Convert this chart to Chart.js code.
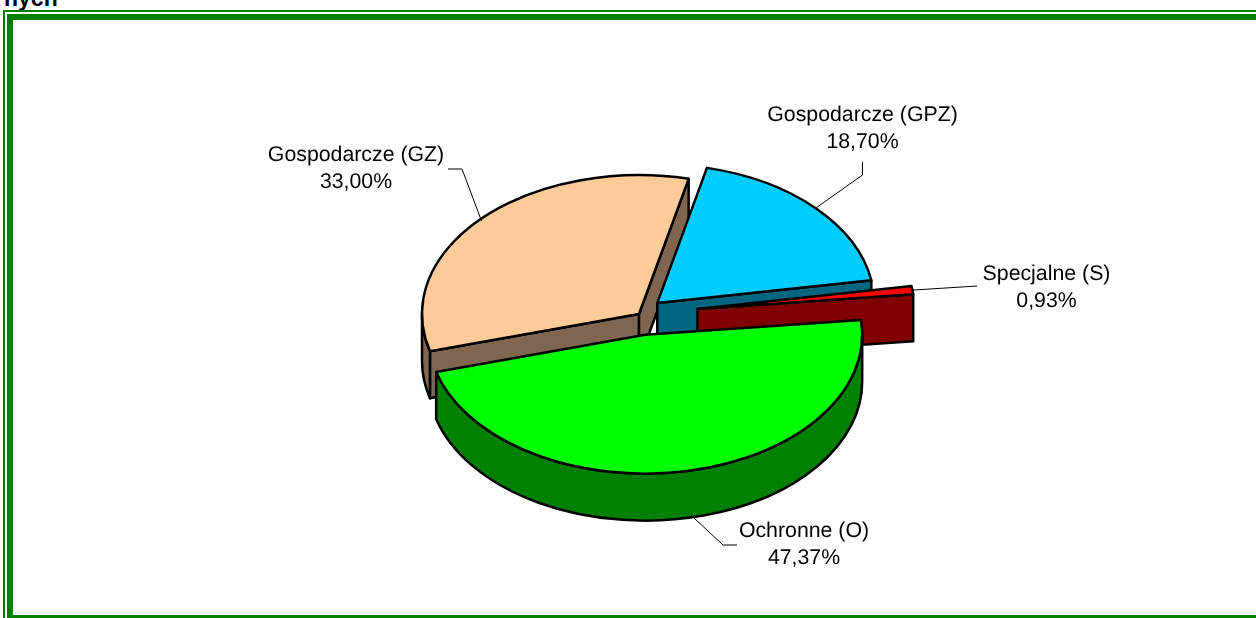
<!DOCTYPE html>
<html lang="pl">
<head>
<meta charset="utf-8">
<title>Pie chart</title>
<script src="https://cdn.jsdelivr.net/npm/chart.js@4"></script>
<style>
    html, body { margin: 0; padding: 0; background: #fff; overflow: hidden; }
    body { width: 1256px; height: 618px; position: relative; }
    .cut { position: absolute; left: 4px; top: -15px; font: bold 23px "Liberation Sans", sans-serif; color: #000; }
    .outer { position: absolute; left: 3px; top: 10px; width: 1260px; height: 620px; border: 2px solid #007f00; }
    .inner { position: absolute; left: 7px; top: 14px; width: 1260px; height: 595px; border: 6px solid #007f00; }
    #wrap { position: absolute; left: 0; top: 0; width: 1256px; height: 618px; }
</style>
</head>
<body>
<div class="cut">nych</div>
<div class="outer"></div>
<div class="inner"></div>
<div id="wrap"><canvas id="pie"></canvas></div>
<script>
    // Data
    const categories = ['Ochronne (O)', 'Gospodarcze (GZ)', 'Gospodarcze (GPZ)', 'Specjalne (S)'];
    const shares = [47.37, 33.00, 18.70, 0.93];
    const shareLabels = ['47,37%', '33,00%', '18,70%', '0,93%'];

    // Look of the slices
    const topColors = ['#00ff00', '#ffcc99', '#00ccff', '#ff0000'];
    const wallColors = ['#008000', '#806650', '#006680', '#800000'];
    const explode = [33, 0, 25, 59];
    const drawOrder = [1, 2, 3, 0];
    const tilt = 0.64;
    const depth = 47;

    // Leader elbows and label centres, relative to the pie centre
    const leaderNudge = [[5, -3], [-1, 3], [0, 0], [0, 0]];
    const elbows = [[84, 231, 98, 231], [-177, -145, -191, -145], [223.5, -139, 223.5, -152], [338, -28, 338, -28]];
    const labelPos = [[165, 217.5], [-283, -159], [223.5, -198.5], [407.5, -39.5]];

    function sliceGeom(el, i) {
        const mid = (el.startAngle + el.endAngle) / 2;
        return { x: el.x + explode[i] * Math.cos(mid), y: el.y + explode[i] * Math.sin(mid) * tilt, mid };
    }

    function rimPoint(el, g, angle) {
        return [g.x + el.outerRadius * Math.cos(angle), g.y + el.outerRadius * Math.sin(angle) * tilt];
    }

    function paint(ctx, color) {
        ctx.fillStyle = color;
        ctx.fill();
        ctx.stroke();
    }

    // cut face between the apex and the rim, pushed down by depth
    function cutFace(ctx, g, p, color) {
        ctx.beginPath();
        ctx.moveTo(g.x, g.y);
        ctx.lineTo(p[0], p[1]);
        ctx.lineTo(p[0], p[1] + depth);
        ctx.lineTo(g.x, g.y + depth);
        ctx.closePath();
        paint(ctx, color);
    }

    const pie3d = {
        id: 'pie3d',
        beforeDatasetDraw(chart, args) {
            const ctx = chart.ctx;
            const arcs = args.meta.data;
            ctx.save();
            ctx.lineJoin = 'round';
            ctx.strokeStyle = '#000';
            ctx.lineWidth = 2.5;
            drawOrder.forEach(i => {
                const el = arcs[i];
                const g = sliceGeom(el, i);
                const R = el.outerRadius;

                // only the faces turned to the viewer
                if (Math.cos(el.startAngle) < 0) cutFace(ctx, g, rimPoint(el, g, el.startAngle), wallColors[i]);
                if (Math.cos(el.endAngle) > 0) cutFace(ctx, g, rimPoint(el, g, el.endAngle), wallColors[i]);

                // outer wall, front half of the rim only
                const s = Math.max(el.startAngle, 0);
                const e = Math.min(el.endAngle, Math.PI);
                if (e > s) {
                    ctx.beginPath();
                    ctx.ellipse(g.x, g.y, R, R * tilt, 0, s, e);
                    ctx.ellipse(g.x, g.y + depth, R, R * tilt, 0, e, s, true);
                    ctx.closePath();
                    paint(ctx, wallColors[i]);
                }

                // top face
                ctx.beginPath();
                ctx.moveTo(g.x, g.y);
                ctx.ellipse(g.x, g.y, R, R * tilt, 0, el.startAngle, el.endAngle);
                ctx.closePath();
                paint(ctx, topColors[i]);
            });

            // leader lines and labels
            ctx.lineWidth = 1;
            ctx.fillStyle = '#000';
            ctx.font = '21.3px "Liberation Sans", Arial, sans-serif';
            ctx.textRendering = 'geometricPrecision';
            ctx.textAlign = 'center';
            ctx.textBaseline = 'middle';
            arcs.forEach((el, i) => {
                const g = sliceGeom(el, i);
                const start = rimPoint(el, g, g.mid);
                const e = elbows[i];
                ctx.beginPath();
                ctx.moveTo(start[0] + leaderNudge[i][0], start[1] + leaderNudge[i][1] + (i === 0 ? depth : 0));
                ctx.lineTo(el.x + e[0], el.y + e[1]);
                ctx.lineTo(el.x + e[2], el.y + e[3]);
                ctx.stroke();
                const lx = el.x + labelPos[i][0];
                const ly = el.y + labelPos[i][1];
                ctx.fillText(categories[i], lx, ly);
                ctx.fillText(shareLabels[i], lx, ly + 27);
            });
            ctx.restore();
            return false;
        }
    };

    new Chart(document.getElementById('pie'), {
        type: 'pie',
        data: {
            labels: categories,
            datasets: [{
                data: shares,
                backgroundColor: topColors,
                borderColor: '#000',
                borderWidth: 2,
                radius: 217
            }]
        },
        options: {
            responsive: true,
            maintainAspectRatio: false,
            animation: false,
            rotation: 83.9,
            layout: { padding: { left: 22, top: 10 } },
            plugins: { legend: { display: false }, tooltip: { enabled: false } }
        },
        plugins: [pie3d]
    });
</script>
</body>
</html>
